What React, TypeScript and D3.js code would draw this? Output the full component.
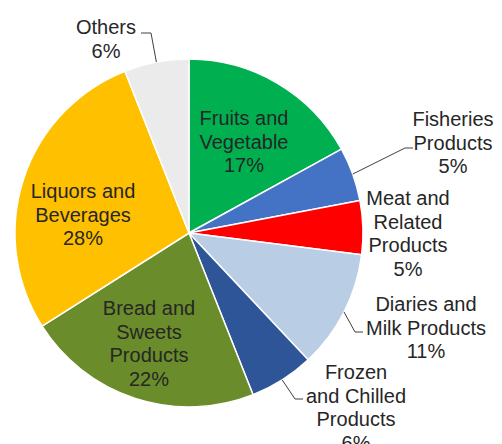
import React from "react";
import * as d3 from "d3";

const categories = [
  "Fruits and Vegetable",
  "Fisheries Products",
  "Meat and Related Products",
  "Diaries and Milk Products",
  "Frozen and Chilled Products",
  "Bread and Sweets Products",
  "Liquors and Beverages",
  "Others",
];
const values = [17, 5, 5, 11, 6, 22, 28, 6];
const labelLines = [
  ["Fruits and", "Vegetable", "17%"],
  ["Fisheries", "Products", "5%"],
  ["Meat and", "Related", "Products", "5%"],
  ["Diaries and", "Milk Products", "11%"],
  ["Frozen", "and Chilled", "Products", "6%"],
  ["Bread and", "Sweets", "Products", "22%"],
  ["Liquors and", "Beverages", "28%"],
  ["Others", "6%"],
];

const colors = [
  "#00B050",
  "#4472C4",
  "#FF0000",
  "#B9CDE5",
  "#2E5597",
  "#6A8C2A",
  "#FFC000",
  "#EBEBEB",
];

// label layout: center x, first baseline y, optional leader elbow [start, elbow]
const layout: { x: number; y: number; leader?: [number, number][] }[] = [
  { x: 244, y: 125 },
  { x: 453, y: 126, leader: [[413, 148], [405, 148]] },
  { x: 408, y: 205 },
  { x: 426, y: 311, leader: [[363, 332], [355, 332]] },
  { x: 356, y: 379, leader: [[303, 399], [295, 399]] },
  { x: 149, y: 315 },
  { x: 83, y: 198 },
  { x: 106, y: 34, leader: [[141, 33], [151, 33]] },
];

const W = 502;
const H = 444;
const cx = 189;
const cy = 233;
const R = 174;
const lineH = 23.7;

export default function App() {
  const data = categories.map((c, i) => ({ name: c, value: values[i], i }));
  const pie = d3
    .pie<any>()
    .sort(null)
    .value((d: any) => d.value)
    .startAngle(0)
    .endAngle(2 * Math.PI);
  const arcs = pie(data);
  const arc = d3.arc<any>().innerRadius(0).outerRadius(R);

  return (
    <svg
      width={W}
      height={H}
      style={{ position: "absolute", left: 0, top: 0, background: "#fff" }}
      fontFamily="Arial, 'Liberation Sans', sans-serif"
    >
      <g transform={`translate(${cx},${cy})`}>
        {arcs.map((a, i) => (
          <path
            key={i}
            d={arc(a) as string}
            fill={colors[i]}
            stroke="#fff"
            strokeWidth={1.5}
            strokeLinejoin="round"
          />
        ))}
      </g>
      {arcs.map((a, i) => {
        const L = layout[i];
        if (!L.leader) return null;
        const mid = (a.startAngle + a.endAngle) / 2;
        const ex = cx + R * Math.sin(mid);
        const ey = cy - R * Math.cos(mid);
        const pts = [...L.leader, [ex, ey]];
        return (
          <path
            key={"l" + i}
            d={d3.line()(pts as [number, number][]) as string}
            fill="none"
            stroke="#404040"
            strokeWidth={1}
          />
        );
      })}
      {labelLines.map((lines, i) => {
        const L = layout[i];
        return (
          <text
            key={"t" + i}
            x={L.x}
            y={L.y}
            textAnchor="middle"
            fontSize={20}
            fill="#262626"
          >
            {lines.map((ln, j) => (
              <tspan key={j} x={L.x} y={L.y + j * lineH}>
                {ln}
              </tspan>
            ))}
          </text>
        );
      })}
    </svg>
  );
}
